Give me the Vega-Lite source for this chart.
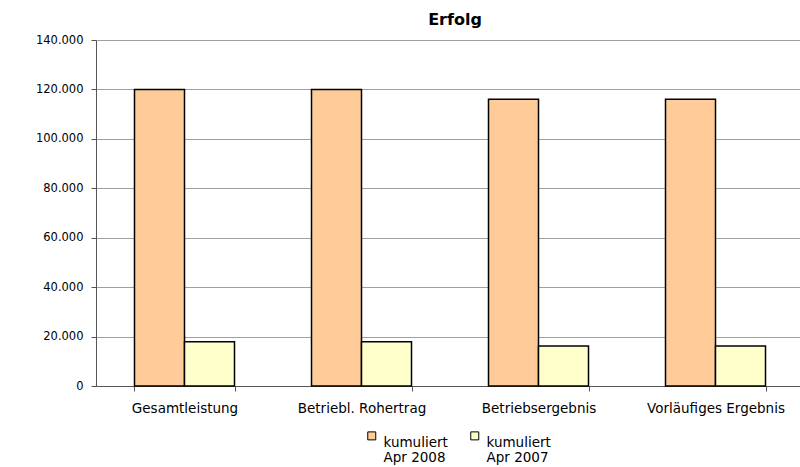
{
  "$schema": "https://vega.github.io/schema/vega-lite/v6.json",
  "width": 708,
  "height": 346,
  "padding": {"left": 5, "top": 12, "right": 0, "bottom": 5},
  "background": "white",
  "title": {"text": "Erfolg", "font": "DejaVu Sans", "fontSize": 16, "fontWeight": "bold", "color": "black", "offset": 6, "dx": 5},
  "data": {
    "values": [
      {"kategorie": "Gesamtleistung", "serie": "kumuliert\nApr 2008", "wert": 120000},
      {"kategorie": "Gesamtleistung", "serie": "kumuliert\nApr 2007", "wert": 17900},
      {"kategorie": "Betriebl. Rohertrag", "serie": "kumuliert\nApr 2008", "wert": 120000},
      {"kategorie": "Betriebl. Rohertrag", "serie": "kumuliert\nApr 2007", "wert": 17900},
      {"kategorie": "Betriebsergebnis", "serie": "kumuliert\nApr 2008", "wert": 116000},
      {"kategorie": "Betriebsergebnis", "serie": "kumuliert\nApr 2007", "wert": 16200},
      {"kategorie": "Vorläufiges Ergebnis", "serie": "kumuliert\nApr 2008", "wert": 116000},
      {"kategorie": "Vorläufiges Ergebnis", "serie": "kumuliert\nApr 2007", "wert": 16200}
    ]
  },
  "mark": {"type": "bar", "stroke": "black", "strokeWidth": 1.5},
  "encoding": {
    "x": {
      "field": "kategorie", "type": "nominal", "sort": null,
      "scale": {"paddingInner": 0.435, "paddingOuter": 0.2175},
      "axis": {"title": null, "labelAngle": 0, "tickBand": "extent", "tickSize": 5, "labelPadding": 10,
               "labelFont": "DejaVu Sans", "labelFontSize": 13.5, "labelColor": "black",
               "domainColor": "#555555", "tickColor": "#555555", "grid": false}
    },
    "xOffset": {"field": "serie", "type": "nominal", "sort": ["kumuliert\nApr 2008", "kumuliert\nApr 2007"]},
    "y": {
      "field": "wert", "type": "quantitative",
      "scale": {"domain": [0, 140000], "nice": false},
      "axis": {"title": null, "values": [0, 20000, 40000, 60000, 80000, 100000, 120000, 140000],
               "labelExpr": "replace(format(datum.value, ',.0f'), ',', '.')",
               "tickSize": 5, "labelPadding": 8, "minExtent": 91,
               "labelFont": "DejaVu Sans", "labelFontSize": 11.5, "labelColor": "black",
               "domainColor": "#555555", "tickColor": "#555555", "gridColor": "#A0A0A0", "gridWidth": 1.2}
    },
    "fill": {
      "field": "serie", "type": "nominal",
      "sort": ["kumuliert\nApr 2008", "kumuliert\nApr 2007"],
      "scale": {"domain": ["kumuliert\nApr 2008", "kumuliert\nApr 2007"], "range": ["#FFCC99", "#FFFFCC"]},
      "legend": {"title": null, "orient": "none", "legendX": 269, "legendY": 389, "direction": "horizontal", "symbolType": "square",
                 "symbolSize": 64, "symbolStrokeColor": "black", "symbolStrokeWidth": 1,
                 "labelExpr": "split(datum.label, '\\n')", "labelFont": "DejaVu Sans", "labelFontSize": 13.5,
                 "labelColor": "black", "labelBaseline": "top", "labelOffset": 5, "columnPadding": 20}
    }
  },
  "config": {
    "view": {"stroke": null}
  }
}
